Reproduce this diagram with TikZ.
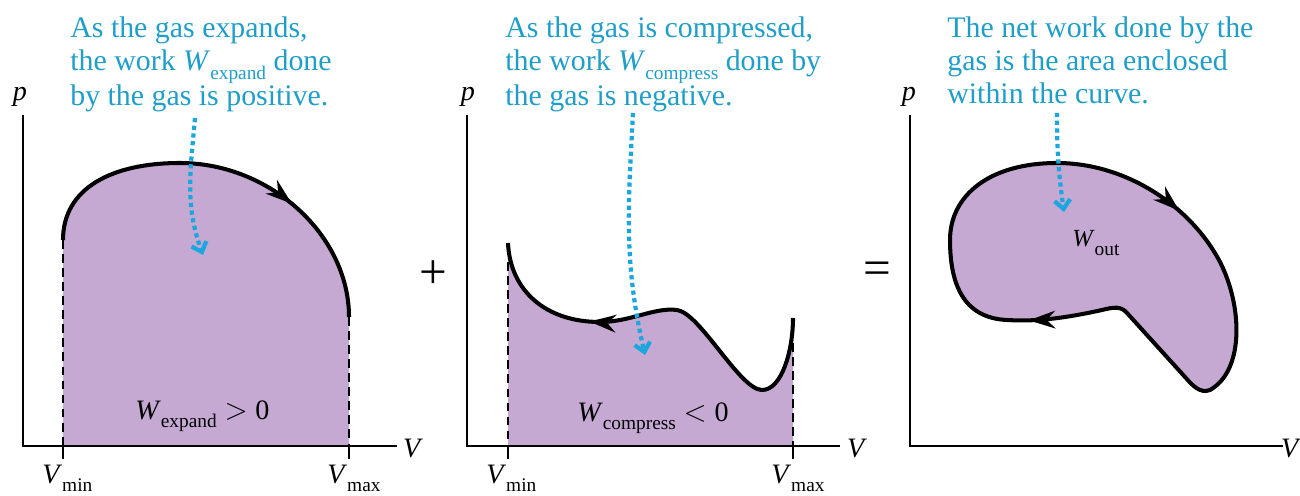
\documentclass[tikz,border=0pt]{standalone}
\usepackage{fontspec}
\setmainfont{Liberation Serif}
\usepackage{xcolor}
\usetikzlibrary{calc, arrows.meta, decorations.markings}
\definecolor{callout}{RGB}{32,158,200}
\definecolor{pointer}{RGB}{28,166,222}
\definecolor{area}{RGB}{197,169,211}
\newcommand{\lowsub}[1]{\raisebox{-5pt}{\fontsize{11}{11}\selectfont #1}}
\tikzset{
  curve/.style={line width=2.3pt, line join=round},
  axis/.style={line width=1.2pt},
  guide/.style={line width=1pt, dash pattern=on 5pt off 3pt},
  midarrow/.style={
    postaction={decorate,
      decoration={markings,
        mark=at position #1 with {\arrow{Stealth[length=15pt,width=10pt]}}}}
  }
}

\begin{document}
\begin{tikzpicture}[x=0.02cm, y=-0.02cm]
\useasboundingbox (0,0) rectangle (1300,496);
% shaded areas
\fill[area] (63,446) -- (63,240) .. controls (63,188) and (112,163) .. (180,163)
  .. controls (270,163) and (349,235) .. (349,317) -- (349,446) -- cycle;
\fill[area] (508,446) -- (508,243) .. controls (510,290) and (545,322) .. (600,322)
  .. controls (630,322) and (655,307) .. (677,310)
  .. controls (700,313) and (740,390) .. (762,390)
  .. controls (782,390) and (793,350) .. (793,318) -- (793,446) -- cycle;
% axes
\draw[axis] (23,115) |- (397,446);
\draw[axis] (467,115) |- (840,446);
\draw[axis] (910,115) |- (1283,446);
% V limits
\draw[guide] (63,240) -- (63,446);
\draw[guide] (349,317) -- (349,446);
\draw[guide] (508,262) -- (508,446);
\draw[guide] (793,343) -- (793,446);
\foreach \x in {63,349,508,793}
  \draw[axis] (\x,446) -- (\x,459);
% process curves
\draw[curve, midarrow=0.68] (63,240) .. controls (63,188) and (112,163) .. (180,163)
  .. controls (270,163) and (349,235) .. (349,317);
\draw[curve, midarrow=0.7] (793,318) .. controls (793,350) and (782,390) .. (762,390)
  .. controls (740,390) and (700,313) .. (677,310)
  .. controls (655,307) and (630,322) .. (600,322)
  .. controls (545,322) and (510,290) .. (508,243);
\draw[curve, fill=area, midarrow=0.16, midarrow=0.665] (1057,163)
  .. controls (1125,163) and (1190,205) .. (1220,262)
  .. controls (1242,305) and (1245,370) .. (1210,390)
  .. controls (1200,394) and (1192,385) .. (1185,377)
  -- (1127,313)
  .. controls (1121,306) and (1114,307) .. (1102,310)
  .. controls (1070,317) and (1040,322) .. (1007,320)
  .. controls (962,318) and (950,282) .. (950,240)
  .. controls (950,195) and (990,163) .. (1057,163) -- cycle;
% labels
\begin{scope}[every node/.style={inner sep=0pt, font=\fontsize{16}{16}\selectfont}]
  \node (p1) at (20,97) {\textit{p}};
  \node (p2) at (468,97) {\textit{p}};
  \node (p3) at (909,97) {\textit{p}};
  \node (v1) at (413,449) {\textit{V}};
  \node (v2) at (857,449) {\textit{V}};
  \node (v3) at (1291,449) {\textit{V}};
  \node[anchor=base west] (m1) at (42,483) {\textit{V}\lowsub{min}};
  \node[anchor=base west] (n1) at (327,483) {\textit{V}\lowsub{max}};
  \node[anchor=base west] (m2) at (486,483) {\textit{V}\lowsub{min}};
  \node[anchor=base west] (n2) at (771,483) {\textit{V}\lowsub{max}};
  \node[anchor=base west] (w1) at (135,419) {\textit{W}\lowsub{expand}\;$>$\;0};
  \node[anchor=base west] (w2) at (577,421) {\textit{W}\lowsub{compress}\;$<$\;0};
  \node[anchor=base west, font=\fontsize{14}{14}\selectfont] (w3) at (1072,247) {\textit{W}\lowsub{out}};
  \node[font=\fontsize{28}{28}\selectfont] (plus) at (433,275) {+};
  \node[font=\fontsize{28}{28}\selectfont] (eq) at (877,273) {=};
\end{scope}
\begin{scope}[every node/.style={anchor=north west, inner sep=0pt, align=left,
    text=callout, font=\fontsize{17}{19}\selectfont}]
  \node (A) at (70,16) {As the gas expands,\\the work \textit{W}\lowsub{expand} done\\by the gas is positive.};
  \node (B) at (505,16) {As the gas is compressed,\\the work \textit{W}\lowsub{compress} done by\\the gas is negative.};
  \node (C) at (947,16) {The net work done by the\\gas is the area enclosed\\within the curve.};
\end{scope}
% pointers
\coordinate (a1) at (195,118);
\coordinate (a2) at (203,255);
\coordinate (b1) at (633,113);
\coordinate (b2) at (645,355);
\coordinate (c1) at (1057,113);
\coordinate (c2) at (1064,212);
\begin{scope}[>={Straight Barb[length=5pt,width=9pt]},
              every edge/.style={draw=pointer, line width=2.4pt, dash pattern=on 2.4pt off 2pt}]
  \path [->] (a1) edge[out=-95, in=110] (a2);
  \path [->] (b1) edge[out=-93, in=103] (b2);
  \path [->] (c1) edge[out=-90, in=98] (c2);
\end{scope}
\end{tikzpicture}
\end{document}
